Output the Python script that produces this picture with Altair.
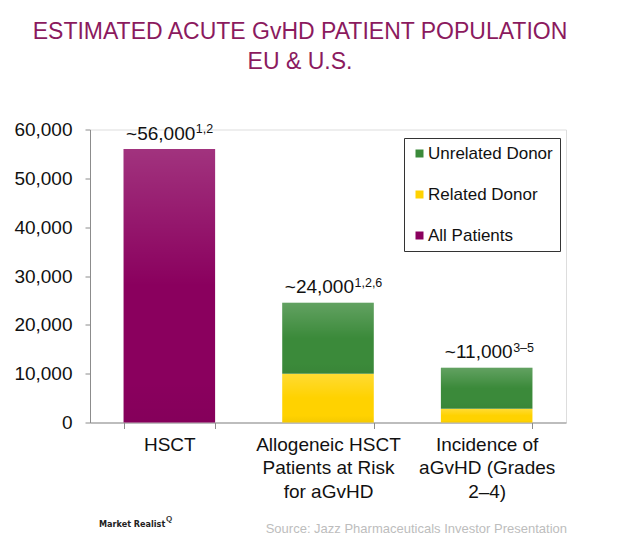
import altair as alt
import pandas as pd

# ---- data ----
categories = ["HSCT", "Allogeneic HSCT|Patients at Risk|for aGvHD", "Incidence of|aGvHD (Grades|2–4)"]
series_names = ["Unrelated Donor", "Related Donor", "All Patients"]
series_colors = ["#3b8a3a", "#ffd200", "#8a005e"]

bar_category = [categories[0], categories[1], categories[1], categories[2], categories[2]]
bar_series = ["All Patients", "Related Donor", "Unrelated Donor", "Related Donor", "Unrelated Donor"]
bar_value = [56000, 10000, 14500, 2800, 8400]
bar_order = [0, 0, 1, 0, 1]

label_top = [56000, 24500, 11200]
label_main = ["~56,000", "~24,000", "~11,000"]
label_sup = ["1,2", "1,2,6", "3–5"]

title_lines = ["ESTIMATED ACUTE GvHD PATIENT POPULATION", "EU & U.S."]
source_text = "Source: Jazz Pharmaceuticals Investor Presentation"
brand_text = "Market Realist"

y_ticks = [0, 10000, 20000, 30000, 40000, 50000, 60000]

FONT = "Liberation Sans"

bars_df = pd.DataFrame({"category": bar_category, "series": bar_series,
                        "value": bar_value, "order": bar_order})
labels_df = pd.DataFrame({"category": categories, "top": label_top,
                          "main": label_main, "sup": label_sup})

x_enc = alt.X("category:N", sort=categories,
              scale=alt.Scale(paddingInner=0.423, paddingOuter=0.2115),
              axis=alt.Axis(title=None, labelAngle=0,
                            labelExpr="split(datum.label, '|')",
                            labelFontSize=19, labelFont=FONT, labelColor="#111",
                            labelLineHeight=23.3, labelPadding=7,
                            tickBand="extent", tickSize=6,
                            domainColor="#8c8c8c", tickColor="#8c8c8c"))
y_enc = alt.Y("value:Q", stack="zero",
              scale=alt.Scale(domain=[0, 60000], nice=False),
              axis=alt.Axis(title=None, values=y_ticks, format=",d", grid=False,
                            labelFontSize=19, labelFont=FONT, labelColor="#111",
                            labelPadding=13, tickSize=5,
                            domainColor="#8c8c8c", tickColor="#8c8c8c"))

base = alt.Chart(bars_df)

bars = base.mark_bar().encode(
    x=x_enc, y=y_enc,
    color=alt.Color("series:N",
                    scale=alt.Scale(domain=series_names, range=series_colors),
                    sort=series_names,
                    legend=alt.Legend(title=None, orient="none", legendX=314, legendY=8.5,
                                      labelFontSize=17, labelFont=FONT, labelColor="#111",
                                      symbolType="square", symbolSize=64, symbolStrokeWidth=0,
                                      labelOffset=0, rowPadding=23, padding=7,
                                      strokeColor="#333", fillColor="white")),
    order=alt.Order("order:Q"),
)

shine = base.mark_bar(
    color=alt.Gradient(
        gradient="linear", x1=0, x2=0, y1=0, y2=1,
        stops=[alt.GradientStop(color="rgba(255,255,255,0.2)", offset=0),
               alt.GradientStop(color="rgba(255,255,255,0)", offset=0.5),
               alt.GradientStop(color="rgba(0,0,0,0)", offset=0.85),
               alt.GradientStop(color="rgba(0,0,0,0.04)", offset=1)])
).encode(x=alt.X("category:N", sort=categories), y=alt.Y("value:Q", stack="zero"),
         detail="series:N", order=alt.Order("order:Q"))

lab_base = alt.Chart(labels_df).encode(
    x=alt.X("category:N", sort=categories), y=alt.Y("top:Q"))
main_labels = lab_base.mark_text(align="right", baseline="alphabetic", dx=26, dy=-9.5,
                                 fontSize=19, font=FONT, color="#111").encode(text="main:N")
sup_labels = lab_base.mark_text(align="left", baseline="alphabetic", dx=26.5, dy=-16,
                                fontSize=12.5, font=FONT, color="#111").encode(text="sup:N")

one = pd.DataFrame({"t": [source_text], "b": [brand_text], "q": ["Q"]})
source = alt.Chart(one).mark_text(align="right", baseline="alphabetic", fontSize=13,
                                  font=FONT, color="#bdbdbd").encode(
    text="t:N", x=alt.value(477), y=alt.value(403.5))
brand = alt.Chart(one).mark_text(align="left", baseline="alphabetic", fontSize=9,
                                 font="DejaVu Sans Condensed", color="#222",
                                 fontWeight="bold").encode(
    text="b:N", x=alt.value(9), y=alt.value(397.5))
brand_q = alt.Chart(one).mark_text(align="left", baseline="alphabetic", fontSize=8,
                                   font=FONT, fontWeight="bold", color="#333").encode(
    text="q:N", x=alt.value(76), y=alt.value(391))

chart = alt.layer(bars, shine, main_labels, sup_labels, source, brand, brand_q).properties(
    width=476, height=293,
    title=alt.TitleParams(title_lines, fontSize=23, font=FONT, fontWeight="normal",
                          color="#8b1a5e", anchor="middle", dx=-28, offset=47,
                          lineHeight=30),
    autosize=alt.AutoSizeParams(type="none"),
    padding={"left": 82, "top": 121.5, "right": 46, "bottom": 123.5},
).configure_view(stroke=None).configure(background="white")

chart.save("out.html", embed_options={"renderer": "svg", "actions": False})
